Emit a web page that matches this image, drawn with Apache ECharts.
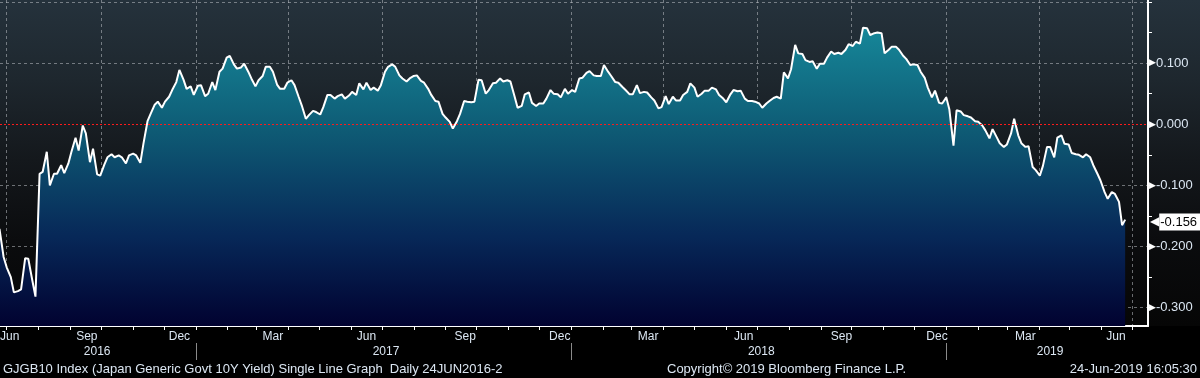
<!DOCTYPE html>
<html>
<head>
<meta charset="utf-8">
<script src="https://cdn.jsdelivr.net/npm/echarts@6/dist/echarts.min.js"></script>
<style>
html, body { margin: 0; padding: 0; background: #000; }
#chart {
  width: 1200px;
  height: 378px;
  background: linear-gradient(to bottom, #25323c 0px, #1e272e 80px, #14181c 160px, #0b0c0e 240px, #060606 326px, #000 326px, #000 378px);
}
</style>
</head>
<body>
<div id="chart"></div>
<script>
// readings on Fridays starting 24 Jun 2016 ...
const weekStart = [2016, 5, 24];
const fridayYield = [
  -0.171, -0.234, -0.275, -0.270, -0.220, -0.282, -0.078, -0.100, -0.081, -0.080,
  -0.045, -0.043, -0.015, -0.040, -0.084, -0.054, -0.054, -0.054, -0.051, -0.051,
  -0.032, 0.017, 0.037, 0.037, 0.056, 0.089, 0.058, 0.048, 0.064, 0.050,
  0.056, 0.091, 0.112, 0.091, 0.099, 0.075, 0.072, 0.094, 0.086, 0.058,
  0.068, 0.064, 0.031, 0.015, 0.020, 0.028, 0.048, 0.046, 0.042, 0.053,
  0.067, 0.068, 0.060, 0.064, 0.094, 0.094, 0.075, 0.075, 0.080, 0.068,
  0.048, 0.037, 0.011, -0.007, 0.017, 0.037, 0.037, 0.072, 0.056, 0.068,
  0.070, 0.070, 0.027, 0.049, 0.035, 0.034, 0.042, 0.050, 0.044, 0.050,
  0.053, 0.076, 0.087, 0.079, 0.097, 0.079, 0.068, 0.056, 0.049, 0.051,
  0.052, 0.039, 0.028, 0.033, 0.039, 0.048, 0.067, 0.045, 0.055, 0.060,
  0.048, 0.036, 0.056, 0.055, 0.038, 0.037, 0.027, 0.038, 0.045, 0.085,
  0.090, 0.116, 0.105, 0.103, 0.099, 0.109, 0.115, 0.115, 0.131, 0.135,
  0.158, 0.146, 0.150, 0.116, 0.127, 0.122, 0.107, 0.098, 0.086, 0.060,
  0.055, 0.034, 0.024, 0.023, 0.015, 0.011, 0.004, -0.010, -0.008, -0.031,
  -0.033, 0.009, -0.031, -0.036, -0.075, -0.068, -0.037, -0.022, -0.032, -0.047,
  -0.050, -0.049, -0.067, -0.092, -0.122, -0.114, -0.165
];
// ... and on the Tuesday after each of those Fridays
const tuesdayYield = [
  -0.217, -0.250, -0.273, -0.219, -0.256, -0.081, -0.045, -0.081, -0.067, -0.064,
  -0.022, -0.002, -0.062, -0.082, -0.066, -0.049, -0.051, -0.064, -0.048, -0.063,
  0.005, 0.032, 0.027, 0.045, 0.069, 0.073, 0.062, 0.063, 0.046, 0.069,
  0.086, 0.109, 0.098, 0.093, 0.086, 0.062, 0.079, 0.094, 0.065, 0.058,
  0.072, 0.045, 0.009, 0.022, 0.016, 0.048, 0.042, 0.049, 0.047, 0.048,
  0.057, 0.056, 0.055, 0.086, 0.098, 0.080, 0.070, 0.079, 0.071, 0.058,
  0.038, 0.017, 0.004, 0.005, 0.038, 0.036, 0.073, 0.050, 0.067, 0.075,
  0.072, 0.046, 0.030, 0.052, 0.030, 0.034, 0.056, 0.049, 0.058, 0.056,
  0.075, 0.084, 0.080, 0.079, 0.086, 0.069, 0.061, 0.049, 0.064, 0.053,
  0.044, 0.026, 0.046, 0.045, 0.039, 0.053, 0.060, 0.050, 0.055, 0.057,
  0.042, 0.049, 0.054, 0.042, 0.038, 0.034, 0.034, 0.043, 0.042, 0.075,
  0.130, 0.115, 0.102, 0.091, 0.099, 0.119, 0.117, 0.122, 0.128, 0.132,
  0.157, 0.149, 0.149, 0.122, 0.127, 0.112, 0.097, 0.097, 0.076, 0.044,
  0.035, 0.044, -0.035, 0.021, 0.013, 0.005, -0.002, -0.023, -0.021, -0.037,
  -0.015, -0.018, -0.037, -0.070, -0.084, -0.037, -0.054, -0.018, -0.033, -0.049,
  -0.054, -0.054, -0.081, -0.111, -0.111, -0.127
];
const lastDate = '2019-06-24';
const lastYield = -0.156;

// axis texts
const yLabelValues = [-0.3, -0.2, -0.1, 0, 0.1];
const yMinorTicks = [-0.3, -0.25, -0.2, -0.15, -0.1, -0.05, 0, 0.05, 0.1, 0.15, 0.2];
const yGridValues = [-0.3, -0.2, -0.1, 0.1, 0.2];
const monthLabelDates = ['2016-07-04', '2016-09-17', '2016-12-16', '2017-03-17', '2017-06-16', '2017-09-20',
  '2017-12-21', '2018-03-17', '2018-06-18', '2018-09-21', '2018-12-23', '2019-03-19', '2019-06-15'];
const monthLabelTexts = ['Jun', 'Sep', 'Dec', 'Mar', 'Jun', 'Sep', 'Dec', 'Mar', 'Jun', 'Sep', 'Dec', 'Mar', 'Jun'];
const yearLabelDates = ['2016-09-27', '2017-07-05', '2018-07-05', '2019-04-12'];
const yearLabelTexts = ['2016', '2017', '2018', '2019'];
const yearBounds = ['2017-01-01', '2018-01-01', '2019-01-01'];

function ts(s) {
  const p = s.split('-');
  return new Date(+p[0], +p[1] - 1, +p[2]).getTime();
}

// build series: Friday, then the following Tuesday
const seriesData = [];
for (let i = 0; i < fridayYield.length; i++) {
  const fri = new Date(weekStart[0], weekStart[1], weekStart[2] + 7 * i);
  seriesData.push([fri.getTime(), fridayYield[i]]);
  if (i < tuesdayYield.length) {
    const tue = new Date(weekStart[0], weekStart[1], weekStart[2] + 7 * i + 4);
    seriesData.push([tue.getTime(), tuesdayYield[i]]);
  }
}
seriesData.push([ts(lastDate), lastYield]);

// month-start ticks, quarter grid lines
const monthTicks = [];
const quarterTicks = [];
for (let m = 0; m <= 36; m++) {
  const t = new Date(2016, 6 + m, 1).getTime();
  monthTicks.push(t);
  if (m % 3 === 0) quarterTicks.push(t);
}

const xMin = new Date(2016, 5, 24, 12).getTime();
const xMax = new Date(2019, 6, 16, 5).getTime();
const yMin = -0.33;
const yMax = 0.2033;

const labelFont = 'Liberation Sans';
const textColor = '#dbe6f2';
const gridColor = 'rgba(185,190,195,0.55)';

function lookup(dates, texts) {
  const nums = dates.map(ts);
  return function (v) {
    const i = nums.indexOf(+v);
    return i >= 0 ? texts[i] : '';
  };
}

var myChart = echarts.init(document.getElementById('chart'));

var option = {
  animation: false,
  backgroundColor: 'transparent',
  grid: { left: 0, right: 52, top: 0, bottom: 52, containLabel: false, outerBoundsMode: 'none' },
  xAxis: [
    {
      type: 'value', min: xMin, max: xMax, position: 'bottom',
      axisLine: { show: true, onZero: false, lineStyle: { color: '#fff', width: 2 } },
      axisTick: { show: true, length: 4, customValues: monthTicks, lineStyle: { color: '#fff', width: 1 } },
      axisLabel: {
        customValues: monthLabelDates.map(ts),
        formatter: lookup(monthLabelDates, monthLabelTexts),
        color: textColor, fontSize: 12, fontFamily: labelFont, margin: 5
      },
      splitLine: { show: false }
    },
    {
      type: 'value', min: xMin, max: xMax, position: 'bottom', offset: 17,
      axisLine: { show: true, onZero: false, lineStyle: { color: 'rgba(0,0,0,0)' } },
      axisTick: { show: true, length: 17, customValues: yearBounds.map(ts), lineStyle: { color: '#8a8a8a', width: 1 } },
      axisLabel: {
        customValues: yearLabelDates.map(ts),
        formatter: lookup(yearLabelDates, yearLabelTexts),
        color: textColor, fontSize: 12, fontFamily: labelFont, margin: 3
      },
      splitLine: { show: false }
    },
    {
      type: 'value', min: xMin, max: xMax, position: 'bottom',
      axisLine: { show: false },
      axisTick: { show: false, customValues: quarterTicks },
      axisLabel: { show: false },
      splitLine: { show: true, lineStyle: { color: gridColor, type: [3, 3], width: 1 } }
    }
  ],
  yAxis: [
    {
      type: 'value', position: 'right', min: yMin, max: yMax,
      axisLine: { show: true, lineStyle: { color: '#fff', width: 2 } },
      axisTick: { show: true, inside: false, length: 4, customValues: yMinorTicks, lineStyle: { color: '#fff', width: 1 } },
      axisLabel: {
        customValues: yLabelValues,
        margin: 1,
        formatter: function (v) { return '{m|▶}{t|' + (+v).toFixed(3) + '}'; },
        rich: {
          m: { color: '#fff', fontSize: 9, fontFamily: 'DejaVu Sans' },
          t: { color: textColor, fontSize: 13, fontFamily: labelFont }
        }
      },
      splitLine: { show: false }
    },
    {
      type: 'value', position: 'right', min: yMin, max: yMax,
      axisLine: { show: false },
      axisTick: { show: false, customValues: yGridValues },
      axisLabel: { show: false },
      splitLine: { show: true, lineStyle: { color: gridColor, type: [3, 3], width: 1 } }
    }
  ],
  series: [
    {
      name: 'GJGB10',
      type: 'line',
      data: seriesData,
      showSymbol: false,
      symbol: 'none',
      lineStyle: { color: '#ffffff', width: 2 },
      areaStyle: {
        origin: 'start',
        opacity: 1,
        color: new echarts.graphic.LinearGradient(0, 0, 0, 1, [
          { offset: 0, color: '#168799' },
          { offset: 0.35, color: '#0e5a74' },
          { offset: 0.7, color: '#072858' },
          { offset: 1, color: '#010230' }
        ])
      },
      markLine: {
        silent: true,
        symbol: 'none',
        data: [
          { yAxis: 0, lineStyle: { color: '#ff1a1a', type: [2, 2], width: 1 }, label: { show: false } },
          {
            yAxis: lastYield,
            lineStyle: { color: 'rgba(0,0,0,0)', width: 1 },
            label: {
              show: true, position: 'end', distance: 2,
              formatter: '{a|◀}{b|' + lastYield.toFixed(3) + '}',
              rich: {
                a: { color: '#fff', fontSize: 12, fontFamily: 'DejaVu Sans' },
                b: { color: '#000', backgroundColor: '#fff', fontSize: 13, fontFamily: labelFont, padding: [2, 3, 2, 1] }
              }
            }
          }
        ]
      }
    }
  ],
  graphic: [
    { type: 'text', left: 3, top: 363, style: { text: 'GJGB10 Index (Japan Generic Govt 10Y Yield) Single Line Graph  Daily 24JUN2016-2', fill: textColor, font: '13px "Liberation Sans"' } },
    { type: 'text', left: 667, top: 363, style: { text: 'Copyright\u00a9 2019 Bloomberg Finance L.P.', fill: textColor, font: '13px "Liberation Sans"' } },
    { type: 'text', right: 3, top: 363, style: { text: '24-Jun-2019 16:05:30', fill: textColor, font: '13px "Liberation Sans"' } }
  ]
};

myChart.setOption(option);
</script>
</body>
</html>
